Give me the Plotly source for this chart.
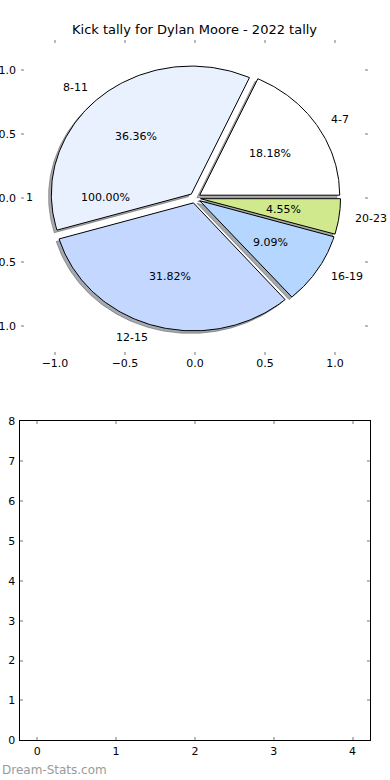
import numpy as np
import plotly.graph_objects as go

# ---------------- data ----------------
title = "Kick tally for Dylan Moore - 2022 tally"
labels = ["4-7", "8-11", "12-15", "16-19", "20-23"]
counts = [4, 8, 7, 2, 1]
colors = ["#ffffff", "#eaf1fe", "#c4d8ff", "#b5d7ff", "#cfe98c"]
explode = [0.04, 0.04, 0.04, 0.04, 0.04]
extra_labels = ["1"]
extra_counts = [1]
extra_explode = [0.04]
pie_ticks = [-1.0, -0.5, 0.0, 0.5, 1.0]
bar_xticks = [0, 1, 2, 3, 4]
bar_yticks = [0, 1, 2, 3, 4, 5, 6, 7, 8]
watermark = "Dream-Stats.com"

FONT = "DejaVu Sans"
fig = go.Figure()


def hex_to_rgb(h):
    h = h.lstrip("#")
    return [int(h[i:i + 2], 16) for i in (0, 2, 4)]


def wedge(cx, cy, a0, a1, r=1.0, n=120):
    t = np.linspace(a0, a1, n)
    xs = np.concatenate([[cx], cx + r * np.cos(t), [cx]])
    ys = np.concatenate([[cy], cy + r * np.sin(t), [cy]])
    return xs, ys


total = float(sum(counts))
fracs = [c / total for c in counts]
starts = np.concatenate([[0.0], np.cumsum(fracs)[:-1]]) * 2 * np.pi
ends = np.cumsum(fracs) * 2 * np.pi

wedges = []
for lab, f, a0, a1, ex, col in zip(labels, fracs, starts, ends, explode, colors):
    mid = (a0 + a1) / 2
    cx, cy = ex * np.cos(mid), ex * np.sin(mid)
    wedges.append((lab, f, a0, a1, mid, cx, cy, col))

# shadows first (beneath all wedges)
for lab, f, a0, a1, mid, cx, cy, col in wedges:
    xs, ys = wedge(cx - 0.02, cy - 0.02, a0, a1)
    rgb = [int(v * 0.3) for v in hex_to_rgb(col)]
    c = "rgba(%d,%d,%d,0.45)" % tuple(rgb)
    fig.add_trace(go.Scatter(x=xs, y=ys, mode="lines", fill="toself", fillcolor=c,
                             line=dict(color=c, width=1), hoverinfo="skip",
                             showlegend=False, xaxis="x", yaxis="y"))

annotations = []
for lab, f, a0, a1, mid, cx, cy, col in wedges:
    xs, ys = wedge(cx, cy, a0, a1)
    fig.add_trace(go.Scatter(x=xs, y=ys, mode="lines", fill="toself", fillcolor=col,
                             line=dict(color="black", width=1), name=lab,
                             showlegend=False, xaxis="x", yaxis="y"))
    lx = cx + 1.1 * np.cos(mid)
    ly = cy + 1.1 * np.sin(mid)
    annotations.append(dict(x=lx, y=ly, xref="x", yref="y", text=lab, showarrow=False,
                            xanchor="left" if lx > 0 else "right", yanchor="middle",
                            font=dict(family=FONT, size=11, color="black")))
    px = cx + 0.6 * np.cos(mid)
    py = cy + 0.6 * np.sin(mid)
    annotations.append(dict(x=px, y=py, xref="x", yref="y", text="%.2f%%" % (f * 100),
                            showarrow=False, xanchor="center", yanchor="middle",
                            font=dict(family=FONT, size=11, color="black")))

# extra single-value pie (only its texts are visible)
etot = float(sum(extra_counts))
ecum = 0.0
for lab, c, ex in zip(extra_labels, extra_counts, extra_explode):
    f = c / etot
    mid = (ecum + f / 2) * 2 * np.pi
    ecum += f
    cx, cy = ex * np.cos(mid), ex * np.sin(mid)
    lx = cx + 1.1 * np.cos(mid)
    ly = cy + 1.1 * np.sin(mid)
    annotations.append(dict(x=lx, y=ly, xref="x", yref="y", text=lab, showarrow=False,
                            xanchor="left" if lx > 0 else "right", yanchor="middle",
                            font=dict(family=FONT, size=11, color="black")))
    annotations.append(dict(x=cx + 0.6 * np.cos(mid), y=cy + 0.6 * np.sin(mid),
                            xref="x", yref="y", text="%.2f%%" % (f * 100),
                            showarrow=False, xanchor="center", yanchor="middle",
                            font=dict(family=FONT, size=11, color="black")))

# empty second axes
fig.add_trace(go.Scatter(x=[], y=[], mode="markers", showlegend=False,
                         xaxis="x2", yaxis="y2"))

annotations.append(dict(x=0.5 * (21 + 368) / 390, y=1 - 30 / 780, xref="paper", yref="paper",
                        text=title, showarrow=False, xanchor="center", yanchor="middle",
                        font=dict(family=FONT, size=13, color="black")))
annotations.append(dict(x=0.0, y=1 - 770 / 780, xref="paper", yref="paper",
                        text=watermark, showarrow=False, xanchor="left", yanchor="middle",
                        font=dict(family=FONT, size=12, color="#9a9a9a")))

tickfont = dict(family=FONT, size=11, color="black")
fig.update_layout(
    width=390, height=780,
    margin=dict(l=0, r=0, t=0, b=0),
    paper_bgcolor="white", plot_bgcolor="white",
    showlegend=False,
    annotations=annotations,
    xaxis=dict(domain=[21 / 390, 368 / 390], anchor="y", range=[-1.243, 1.236],
               tickvals=pie_ticks, tickformat=".1f", ticks="inside", ticklen=3,
               tickcolor="#bbbbbb", tickwidth=1.5, mirror="ticks", showline=False,
               showgrid=False, zeroline=False, tickfont=tickfont, automargin=False,
               fixedrange=True),
    yaxis=dict(domain=[1 - 355 / 780, 1 - 40 / 780], anchor="x", range=[-1.227, 1.234],
               tickvals=pie_ticks, tickformat=".1f", ticks="inside", ticklen=3,
               tickcolor="#bbbbbb", tickwidth=1.5, mirror="ticks", showline=False,
               showgrid=False, zeroline=False, tickfont=tickfont, automargin=False,
               ticklabelstandoff=4, fixedrange=True),
    xaxis2=dict(domain=[19.5 / 390, 370.3 / 390], anchor="y2", range=[-0.225, 4.225],
                tickvals=bar_xticks, ticks="inside", ticklen=3, tickcolor="#bbbbbb",
                tickwidth=1.5, mirror="ticks", showline=True, linecolor="black",
                linewidth=1, showgrid=False, zeroline=False, tickfont=tickfont,
                automargin=False, fixedrange=True),
    yaxis2=dict(domain=[1 - 740.3 / 780, 1 - 421.3 / 780], anchor="x2", range=[0, 8],
                tickvals=bar_yticks, ticks="inside", ticklen=3, tickcolor="#bbbbbb",
                tickwidth=1.5, mirror="ticks", showline=True, linecolor="black",
                linewidth=1, showgrid=False, zeroline=False, tickfont=tickfont,
                automargin=False, ticklabelstandoff=1, fixedrange=True),
)

fig.write_html("out.html", config={"displayModeBar": False},
               post_script="document.body.style.margin='0';document.body.style.overflow='hidden';")
